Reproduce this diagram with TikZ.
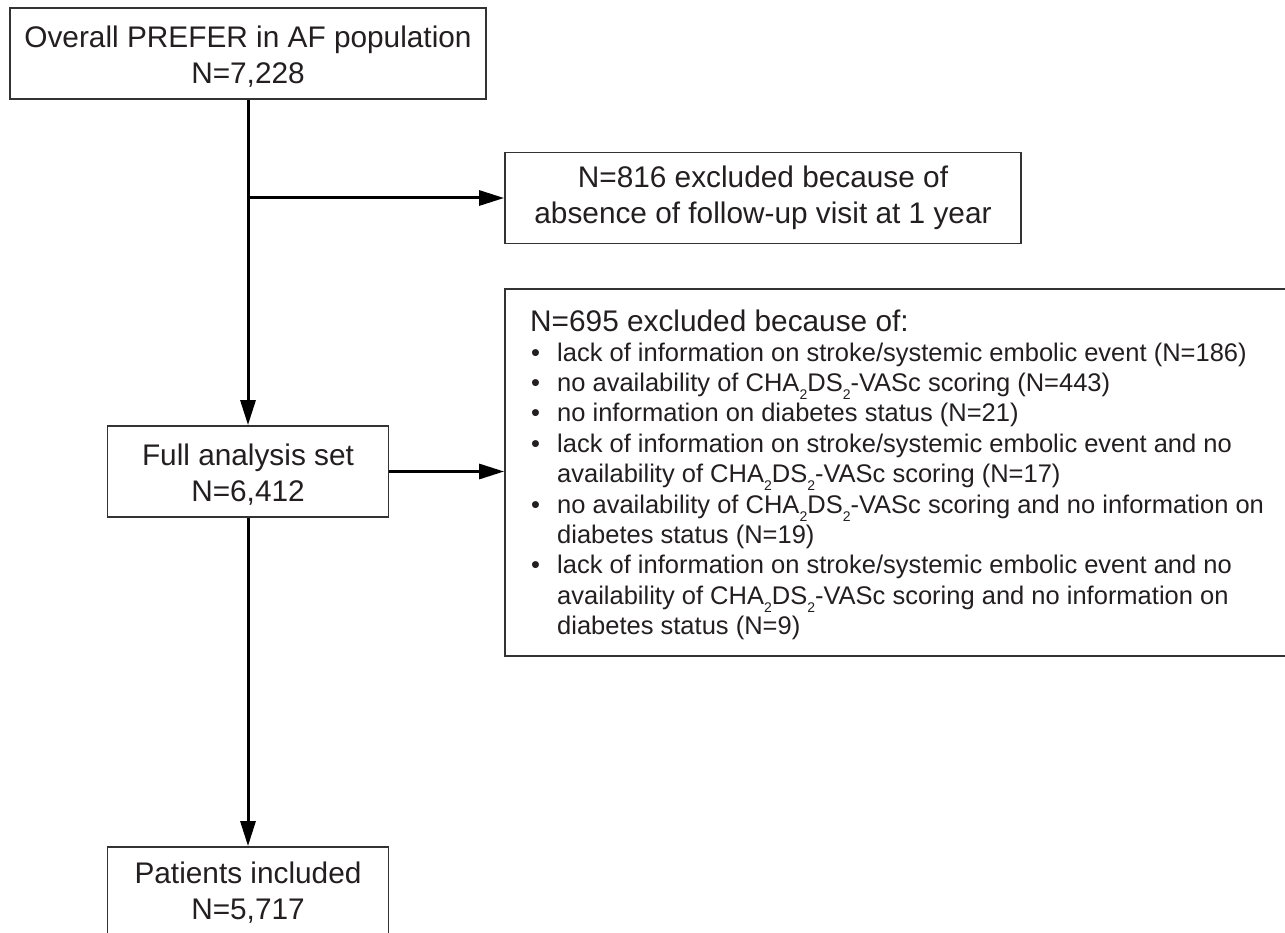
\documentclass[tikz,border=0pt]{standalone}
\usepackage{fontspec}
\setmainfont{Liberation Sans}
\usetikzlibrary{arrows.meta,positioning}
\definecolor{ink}{HTML}{231F20}
\definecolor{frame}{HTML}{333333}
\newcommand{\subtwo}{\raisebox{-8pt}{\fontsize{14pt}{14pt}\selectfont 2}}
\newcommand{\chads}{CHA\subtwo DS\subtwo-VASc}
\newcommand{\lowstrut}{\rule{0pt}{27pt}}
\begin{document}
\begin{tikzpicture}[x=1pt,y=-1pt,
  box/.style={draw=frame, line width=1.8pt, text=ink, align=center,
    font=\fontsize{29.8pt}{36pt}\selectfont, inner sep=0pt},
  arr/.style={line width=3pt, draw=black,
    -{Triangle[length=25pt,width=15pt]}},
  ttl/.style={anchor=base west, inner sep=0pt, text=ink,
    font=\fontsize{29.8pt}{36pt}\selectfont},
  bul/.style={anchor=base west, inner sep=0pt, text=ink,
    font=\fontsize{25.5pt}{30pt}\selectfont},
  btxt/.style={anchor=base west, inner sep=0pt, text=ink,
    font=\fontsize{25.5pt}{30pt}\selectfont}
]
\fill[white] (0,0) rectangle (1285,933);
\useasboundingbox (0,0) rectangle (1285,933);

% boxes
\node[box, minimum width=476pt, minimum height=91pt] (top) at (248,53.5)
  {\lowstrut Overall PREFER in AF population\\N=7,228};
\node[box, minimum width=516pt, minimum height=91pt] (exc1) at (763,198)
  {N=816 excluded because of\\absence of follow-up visit at 1 year};
\node[box, minimum width=281pt, minimum height=91pt] (full) at (248,471.5)
  {\lowstrut Full analysis set\\N=6,412};
\node[box, minimum width=281pt, minimum height=91pt] (pat) at (248,892.5)
  {Patients included\\N=5,717};
\node[draw=frame, line width=1.8pt, minimum width=785pt, minimum height=367pt,
  inner sep=0pt] (exc2) at (897.5,472.5) {};

% text of the second exclusion box
\node[ttl] (t0) at (530,331) {N=695 excluded because of:};
\node[bul] (b1) at (531,361.0) {•};
\node[btxt] (l1) at (557,361.0) {lack of information on stroke/systemic embolic event (N=186)};
\node[bul] (b2) at (531,391.4) {•};
\node[btxt] (l2) at (557,391.4) {no availability of \chads{} scoring (N=443)};
\node[bul] (b3) at (531,421.8) {•};
\node[btxt] (l3) at (557,421.8) {no information on diabetes status (N=21)};
\node[bul] (b4) at (531,452.2) {•};
\node[btxt] (l4) at (557,452.2) {lack of information on stroke/systemic embolic event and no};
\node[btxt] (l5) at (557,482.6) {availability of \chads{} scoring (N=17)};
\node[bul] (b5) at (531,513.0) {•};
\node[btxt] (l6) at (557,513.0) {no availability of \chads{} scoring and no information on};
\node[btxt] (l7) at (557,543.4) {diabetes status (N=19)};
\node[bul] (b6) at (531,573.8) {•};
\node[btxt] (l8) at (557,573.8) {lack of information on stroke/systemic embolic event and no};
\node[btxt] (l9) at (557,604.2) {availability of \chads{} scoring and no information on};
\node[btxt] (l10) at (557,634.6) {diabetes status (N=9)};

% connectors
\draw[arr] (top.south) -- (full.north);
\draw[arr] (top.south |- exc1.west) -- (exc1.west);
\draw[arr] (full.east) -- (full.east -| exc2.west);
\draw[arr] (full.south) -- (pat.north);
\end{tikzpicture}
\end{document}
